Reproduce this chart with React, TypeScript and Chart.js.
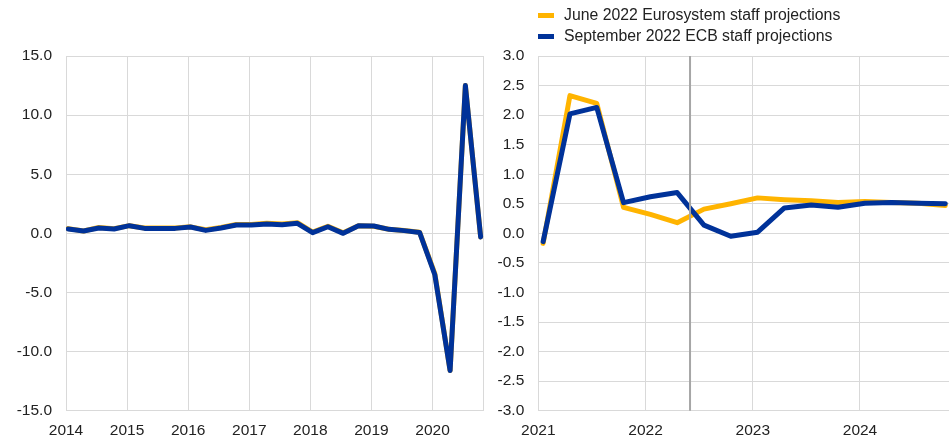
import React, { useEffect, useRef } from 'react';
import { Chart, registerables } from 'chart.js';

Chart.register(...registerables);

// ---------- DATA ----------
const historyQuarters = [
  '2014Q1', '2014Q2', '2014Q3', '2014Q4', '2015Q1', '2015Q2', '2015Q3', '2015Q4',
  '2016Q1', '2016Q2', '2016Q3', '2016Q4', '2017Q1', '2017Q2', '2017Q3', '2017Q4',
  '2018Q1', '2018Q2', '2018Q3', '2018Q4', '2019Q1', '2019Q2', '2019Q3', '2019Q4',
  '2020Q1', '2020Q2', '2020Q3', '2020Q4',
];
const historyJune = [
  0.4, 0.2, 0.5, 0.4, 0.65, 0.45, 0.45, 0.45,
  0.55, 0.3, 0.5, 0.75, 0.75, 0.85, 0.8, 0.9,
  0.1, 0.6, 0.05, 0.65, 0.6, 0.35, 0.25, 0.1,
  -3.4, -11.6, 12.5, -0.3,
];
const historySept = [
  0.37, 0.2, 0.45, 0.37, 0.65, 0.42, 0.42, 0.42,
  0.54, 0.25, 0.45, 0.7, 0.7, 0.79, 0.73, 0.85,
  0.06, 0.56, 0.0, 0.65, 0.62, 0.34, 0.23, 0.08,
  -3.5, -11.6, 12.5, -0.3,
];
const historyYears = ['2014', '2015', '2016', '2017', '2018', '2019', '2020'];

const projQuarters = [
  '2021Q1', '2021Q2', '2021Q3', '2021Q4', '2022Q1', '2022Q2', '2022Q3', '2022Q4',
  '2023Q1', '2023Q2', '2023Q3', '2023Q4', '2024Q1', '2024Q2', '2024Q3', '2024Q4',
];
const projJune = [
  -0.17, 2.33, 2.2, 0.44, 0.32, 0.18, 0.41, 0.5,
  0.6, 0.57, 0.55, 0.52, 0.54, 0.52, 0.51, 0.47,
];
const projSept = [
  -0.14, 2.02, 2.13, 0.52, 0.62, 0.69, 0.14, -0.05,
  0.02, 0.43, 0.48, 0.44, 0.51, 0.52, 0.51, 0.5,
];
const projYears = ['2021', '2022', '2023', '2024'];
const projectionCutoff = 5.48; // between 2022Q2 and 2022Q3

const legendLabels = [
  'June 2022 Eurosystem staff projections',
  'September 2022 ECB staff projections',
];

// ---------- STYLE ----------
const FONT = "'Liberation Sans', Arial, Helvetica, sans-serif";
const YELLOW = '#FFB400';
const BLUE = '#003299';
const GRID = '#d9d9d9';
const TEXT = '#222222';

type PanelProps = {
  quarters: string[];
  june: number[];
  sept: number[];
  years: string[];
  xOffset: number;
  xMax: number;
  rightBorder: boolean;
  yMin: number;
  yMax: number;
  yStep: number;
  yAxisWidth: number;
  padRight: number;
  width: number;
  left: number;
  cutoff?: number;
};

function Panel(p: PanelProps) {
  const ref = useRef<HTMLCanvasElement | null>(null);

  useEffect(() => {
    if (!ref.current) return;
    const cutoffPlugin = {
      id: 'cutoffLine',
      afterDatasetsDraw(chart: any) {
        if (p.cutoff === undefined) return;
        const { ctx, chartArea, scales } = chart;
        const x = scales.x.getPixelForValue(p.cutoff);
        ctx.save();
        ctx.strokeStyle = '#a6a6a6';
        ctx.lineWidth = 2;
        ctx.beginPath();
        ctx.moveTo(x, chartArea.top);
        ctx.lineTo(x, chartArea.bottom);
        ctx.stroke();
        ctx.restore();
      },
    };

    const chart = new Chart(ref.current, {
      type: 'line',
      data: {
        datasets: [
          {
            label: legendLabels[1],
            data: p.sept.map((v, i) => ({ x: i, y: v })),
            borderColor: BLUE,
            backgroundColor: BLUE,
            borderWidth: 5,
            pointRadius: 0,
            tension: 0,
            borderJoinStyle: 'round',
            borderCapStyle: 'round',
            order: 0,
          },
          {
            label: legendLabels[0],
            data: p.june.map((v, i) => ({ x: i, y: v })),
            borderColor: YELLOW,
            backgroundColor: YELLOW,
            borderWidth: 5,
            pointRadius: 0,
            tension: 0,
            borderJoinStyle: 'round',
            borderCapStyle: 'round',
            order: 1,
          },
        ],
      },
      options: {
        responsive: false,
        animation: false,
        layout: { padding: { top: 56, right: p.padRight, bottom: 0, left: 0 } },
        plugins: { legend: { display: false }, tooltip: { enabled: false } },
        scales: {
          x: {
            type: 'linear',
            min: p.xOffset,
            max: p.xMax,
            border: { display: false },
            grid: { color: GRID, lineWidth: 1, drawTicks: false },
            afterBuildTicks: (scale: any) => {
              const t = p.years.map((_, k) => ({ value: k * 4 + p.xOffset }));
              if (p.rightBorder) t.push({ value: p.xMax });
              scale.ticks = t;
            },
            afterFit: (scale: any) => {
              scale.height = 27.3;
              scale.paddingLeft = 0;
              scale.paddingRight = 0;
            },
            ticks: {
              autoSkip: false,
              maxRotation: 0,
              padding: 11,
              color: TEXT,
              font: { family: FONT, size: 15.5 },
              callback: (_v: any, index: number) => p.years[index] ?? '',
            },
          },
          y: {
            min: p.yMin,
            max: p.yMax,
            border: { display: false },
            grid: { color: GRID, lineWidth: 1, drawTicks: false },
            afterFit: (scale: any) => {
              scale.width = p.yAxisWidth;
              scale.paddingTop = 0;
              scale.paddingBottom = 0;
            },
            ticks: {
              stepSize: p.yStep,
              padding: 14,
              color: TEXT,
              font: { family: FONT, size: 15.5 },
              callback: (v: any) => Number(v).toFixed(1),
            },
          },
        },
      } as any,
      plugins: [cutoffPlugin],
    });
    return () => chart.destroy();
  }, []);

  return (
    <canvas
      ref={ref}
      width={p.width}
      height={438}
      style={{ position: 'absolute', left: p.left, top: 0, display: 'block' }}
    />
  );
}

export default function App() {
  return (
    <div
      style={{
        position: 'fixed',
        left: 0,
        top: 0,
        width: 949,
        height: 438,
        background: '#ffffff',
        overflow: 'hidden',
        fontFamily: FONT,
      }}
    >
      <Panel
        quarters={historyQuarters}
        june={historyJune}
        sept={historySept}
        years={historyYears}
        xOffset={-0.15}
        xMax={27.2}
        rightBorder={true}
        yMin={-15}
        yMax={15}
        yStep={5}
        yAxisWidth={66}
        padRight={6.3}
        width={490}
        left={0}
      />
      <Panel
        quarters={projQuarters}
        june={projJune}
        sept={projSept}
        years={projYears}
        xOffset={-0.18}
        xMax={15.14}
        rightBorder={false}
        yMin={-3}
        yMax={3}
        yStep={0.5}
        yAxisWidth={48.3}
        padRight={0}
        width={459}
        left={490}
        cutoff={projectionCutoff}
      />
      <div style={{ position: 'absolute', left: 538, top: 4.5, color: TEXT, fontSize: 15.8 }}>
        {legendLabels.map((label, i) => (
          <div key={label} style={{ display: 'flex', alignItems: 'center', height: 21 }}>
            <span
              style={{
                display: 'inline-block',
                width: 16,
                height: 5,
                background: i === 0 ? YELLOW : BLUE,
                marginRight: 10,
              }}
            />
            <span style={{ whiteSpace: 'nowrap' }}>{label}</span>
          </div>
        ))}
      </div>
    </div>
  );
}
